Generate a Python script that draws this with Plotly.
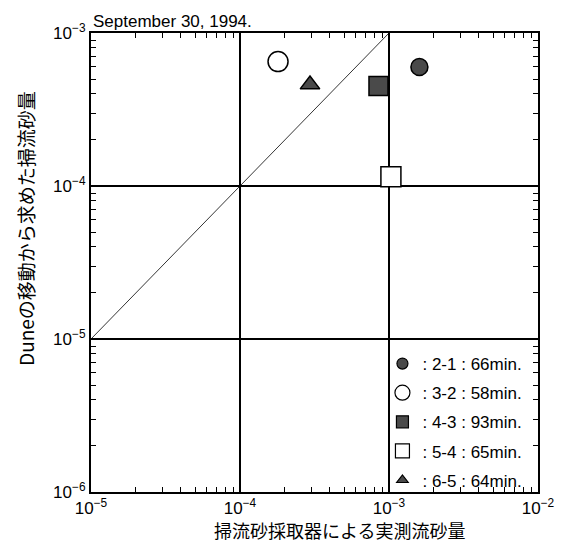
import plotly.graph_objects as go

# measured bedload (x) vs bedload from dune migration (y), September 30, 1994
labels = [": 2-1 : 66min.", ": 3-2 : 58min.", ": 4-3 : 93min.", ": 5-4 : 65min.", ": 6-5 : 64min."]
x_meas = [1.6e-3, 1.8e-4, 8.5e-4, 1.03e-3, 2.95e-4]
y_dune = [6.0e-4, 6.5e-4, 4.5e-4, 1.15e-4, 4.6e-4]
symbols = ["circle", "circle", "square", "square", "triangle-up"]
fills = ["#4a4a4a", "white", "#4a4a4a", "white", "#4a4a4a"]
sizes = [17, 20, 19, 20, 17]
legend_sizes = [11, 15, 12, 14, 10]

line_x = [1e-5, 1e-3]
line_y = [1e-5, 1e-3]

major = [1e-6, 1e-5, 1e-4, 1e-3, 1e-2]
major_text = ["10<sup>−6</sup>", "10<sup>−5</sup>", "10<sup>−4</sup>", "10<sup>−3</sup>", "10<sup>−2</sup>"]
minor = [m * 10.0 ** e for e in range(-6, -2) for m in range(2, 10)]

FONT = "Liberation Sans, Arial, Noto Sans CJK JP"
JP = "Noto Sans CJK JP"

fig = go.Figure()
fig.add_trace(go.Scatter(x=line_x, y=line_y, mode="lines",
                         line=dict(color="black", width=0.8),
                         showlegend=False, hoverinfo="skip"))
for i in range(len(labels)):
    fig.add_trace(go.Scatter(x=[x_meas[i]], y=[y_dune[i]], mode="markers",
                             marker=dict(symbol=symbols[i], size=sizes[i], color=fills[i],
                                         line=dict(color="black", width=1.5)),
                             showlegend=False))
    # legend-only entry with the smaller symbol used in the key
    fig.add_trace(go.Scatter(x=[None], y=[None], mode="markers", name=labels[i],
                             legendgroup=str(i),
                             marker=dict(symbol=symbols[i], size=legend_sizes[i], color=fills[i],
                                         line=dict(color="black", width=1.2))))

axis_common = dict(
    type="log", showline=True, linecolor="black", linewidth=2, mirror="allticks",
    ticks="inside", ticklen=5, tickcolor="black", tickwidth=1,
    tickmode="array", tickvals=major, ticktext=major_text,
    showgrid=True, gridcolor="black", gridwidth=1.5,
    tickfont=dict(family=FONT, size=17, color="black"),
    minor=dict(tickmode="array", tickvals=minor, ticks="inside", ticklen=5,
               tickcolor="black", tickwidth=1, showgrid=False),
)

# page body has an 8px margin, so the figure is 8px smaller and margins shifted
fig.update_layout(
    width=559, height=541,
    margin=dict(l=83, r=22, t=25, b=57),
    paper_bgcolor="white", plot_bgcolor="white",
    font=dict(family=FONT, color="black"),
    xaxis=dict(axis_common, range=[-5, -2]),
    yaxis=dict(axis_common, range=[-6, -3]),
    legend=dict(x=0.652, y=0.318, xanchor="left", yanchor="top",
                bgcolor="rgba(0,0,0,0)", borderwidth=0,
                font=dict(family=FONT, size=17),
                traceorder="grouped", tracegroupgap=4, itemwidth=30),
    annotations=[
        dict(text="September 30, 1994.", xref="paper", yref="paper",
             x=0, y=1, xanchor="left", yanchor="bottom", yshift=0,
             showarrow=False, font=dict(family=FONT, size=17)),
        dict(text="掃流砂採取器による実測流砂量", xref="paper", yref="paper",
             x=0.555, y=-0.083, xanchor="center", yanchor="middle",
             showarrow=False, font=dict(family=JP, size=18)),
        dict(text="Duneの移動から求めた掃流砂量", xref="paper", yref="paper",
             x=-0.148, y=0.575, xanchor="center", yanchor="middle", textangle=-90,
             showarrow=False, font=dict(family=JP, size=19)),
    ],
)

fig.write_html("out.html")
